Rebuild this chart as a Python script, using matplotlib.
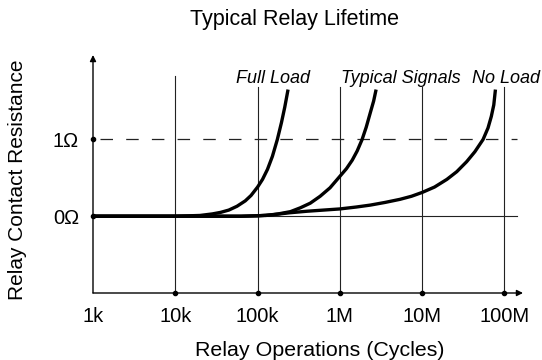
"""
Typical relay lifetime: contact resistance vs. number of operations.
"""

import matplotlib.pyplot as plt

plt.rcParams["font.family"] = ["Liberation Sans", "DejaVu Sans"]
plt.rcParams["lines.scale_dashes"] = False

# log10(cycles) / resistance (ohm) points along each curve
full_load_exp = [3.0, 4.0, 4.3, 4.45, 4.55, 4.65, 4.75, 4.85, 4.92, 5.0,
                 5.06, 5.12, 5.18, 5.24, 5.29, 5.33, 5.37]
full_load_ohm = [0.0, 0.0, 0.01, 0.03, 0.05, 0.08, 0.13, 0.20, 0.27, 0.38,
                 0.48, 0.61, 0.78, 1.0, 1.22, 1.42, 1.65]

typical_exp = [3.0, 4.8, 5.1, 5.25, 5.4, 5.52, 5.64, 5.76, 5.88, 6.0,
               6.08, 6.15, 6.21, 6.27, 6.32, 6.37, 6.41, 6.44]
typical_ohm = [0.0, 0.0, 0.01, 0.03, 0.06, 0.11, 0.17, 0.26, 0.37, 0.52,
               0.62, 0.73, 0.85, 1.0, 1.16, 1.35, 1.5, 1.65]

no_load_exp = [3.0, 4.8, 5.0, 5.19, 5.39, 5.6, 5.8, 6.0, 6.2, 6.37, 6.55,
               6.73, 6.87, 7.0, 7.15, 7.3, 7.42, 7.54, 7.64, 7.74, 7.8,
               7.84, 7.87, 7.89]
no_load_ohm = [0.0, 0.0, 0.005, 0.02, 0.045, 0.065, 0.08, 0.095, 0.12, 0.145,
               0.18, 0.22, 0.26, 0.31, 0.38, 0.48, 0.58, 0.71, 0.84, 1.0,
               1.15, 1.3, 1.45, 1.65]

curve_names = ["Full Load", "Typical Signals", "No Load"]

x_ticks = [1e3, 1e4, 1e5, 1e6, 1e7, 1e8]
x_tick_labels = ["1k", "10k", "100k", "1M", "10M", "100M"]
y_ticks = [0, 1]
y_tick_labels = ["0\u03a9", "1\u03a9"]


def main() -> None:
    fig = plt.figure(figsize=(5.42, 3.6), dpi=100)
    ax = fig.add_axes([93 / 542, 67 / 360, 430 / 542, 238 / 360])
    x_max = 10 ** 8.225
    ax.set_xscale("log")
    ax.set_xlim(1e3, x_max)
    ax.set_ylim(-1.0, 2.1)
    for s in ax.spines.values():
        s.set_visible(False)

    # axes with arrow heads
    arrow = dict(arrowstyle="-|>", lw=1.0, color="black", mutation_scale=9,
                 shrinkA=0, shrinkB=0)
    ax.annotate("", xy=(1, 0), xytext=(0, 0), xycoords="axes fraction",
                arrowprops=arrow)
    ax.annotate("", xy=(0, 1), xytext=(0, 0), xycoords="axes fraction",
                arrowprops=arrow)

    # vertical decade lines
    for i, xv in enumerate(x_ticks[1:]):
        top = 1.82 if i == 0 else 1.68
        ax.plot([xv, xv], [-1.0, top], color="#222222", lw=0.8, zorder=1)

    # reference levels
    ax.plot([10 ** 3.085, 10 ** 8.15], [1, 1], color="#222222", lw=0.9,
            ls=(0, (9, 9.5)), zorder=1)
    ax.plot([1e3, 10 ** 8.15], [0, 0], color="#222222", lw=0.8, zorder=1)

    for exps, ohms in [(full_load_exp, full_load_ohm),
                       (typical_exp, typical_ohm),
                       (no_load_exp, no_load_ohm)]:
        ax.plot([10 ** e for e in exps], ohms, color="black", lw=2.4,
                solid_capstyle="butt", solid_joinstyle="round", zorder=3)

    # tick dots
    ax.plot(x_ticks[1:], [-1.0] * 5, "o", color="black", ms=3, clip_on=False)
    ax.plot([1e3, 1e3], y_ticks, "o", color="black", ms=3, clip_on=False)

    ax.set_xticks(x_ticks)
    ax.set_xticklabels(x_tick_labels)
    ax.set_yticks(y_ticks)
    ax.set_yticklabels(y_tick_labels)
    ax.minorticks_off()
    ax.tick_params(axis="both", length=0, labelsize=14.5)
    ax.tick_params(axis="x", pad=10)
    ax.tick_params(axis="y", pad=10)

    label_x = [10 ** 5.19, 10 ** 6.74, 10 ** 8.02]
    for name, lx in zip(curve_names, label_x):
        ax.text(lx, 1.80, name, ha="center", va="center", fontsize=13,
                style="italic")

    fig.text(295 / 542, 1 - 19 / 360, "Typical Relay Lifetime", ha="center",
             va="center", fontsize=15.5)
    fig.text(320 / 542, 1 - 350 / 360, "Relay Operations (Cycles)", ha="center",
             va="center", fontsize=15.4)
    fig.text(18 / 542, 1 - 180 / 360, "Relay Contact Resistance", ha="center",
             va="center", rotation=90, fontsize=15)

    fig.savefig("out.png", dpi=100)
    plt.close(fig)


if __name__ == "__main__":
    main()
